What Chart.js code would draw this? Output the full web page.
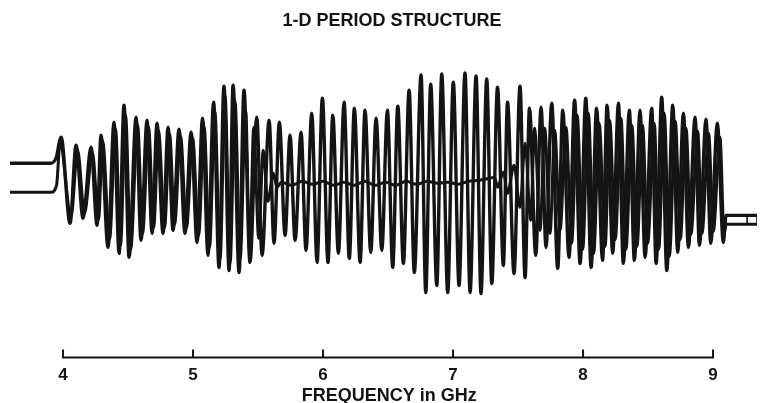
<!DOCTYPE html>
<html>
<head>
<meta charset="utf-8">
<script src="https://cdn.jsdelivr.net/npm/chart.js@4/dist/chart.umd.min.js"></script>
<style>
  html, body { margin: 0; padding: 0; background: #fff; }
  .chart-box { width: 760px; height: 403px; }
</style>
</head>
<body>
<div class="chart-box"><canvas class="js-chart"></canvas></div>
<script>
var chartTitle = '1-D PERIOD STRUCTURE';
var axisTitle = 'FREQUENCY in GHz';
var tickValues = [4, 5, 6, 7, 8, 9];

// trace with the strong beat in the middle (GHz, relative amplitude)
var traceAFreq = [
  3.592, 3.900, 3.946, 3.985, 4.054, 4.100, 4.154, 4.215, 4.262, 4.292,
  4.346, 4.392, 4.431, 4.469, 4.508, 4.562, 4.600, 4.646, 4.685, 4.723,
  4.769, 4.808, 4.846, 4.892, 4.938, 4.985, 5.031, 5.073, 5.115, 5.158,
  5.200, 5.238, 5.277, 5.308, 5.354, 5.392, 5.438, 5.490, 5.531, 5.585,
  5.623, 5.664, 5.708, 5.746, 5.785, 5.831, 5.869, 5.913, 5.954, 5.995,
  6.038, 6.075, 6.118, 6.162, 6.202, 6.241, 6.285, 6.323, 6.367, 6.408,
  6.452, 6.495, 6.536, 6.575, 6.618, 6.662, 6.702, 6.754, 6.790, 6.828,
  6.875, 6.913, 6.959, 7.002, 7.046, 7.092, 7.131, 7.177, 7.215, 7.259,
  7.298, 7.342, 7.387, 7.419, 7.469, 7.515, 7.554, 7.588, 7.636, 7.677,
  7.715, 7.759, 7.805, 7.844, 7.892, 7.935, 7.977, 8.021, 8.062, 8.104,
  8.150, 8.185, 8.228, 8.272, 8.310, 8.356, 8.395, 8.438, 8.477, 8.528,
  8.562, 8.605, 8.644, 8.690, 8.728, 8.772, 8.810, 8.862, 8.895, 8.946,
  8.982, 9.033, 9.079, 9.100, 9.338
];
var traceAAmp = [
  20, 20, 25, 46, -40, 38, -35, 36, -42, 48,
  -64, 61, -70, 78, -74, 66, -57, 63, -50, 60,
  -50, 56, -47, 54, -50, 51, -59, 65, -72, 81,
  -84, 97, -87, 98, -89, 93, -79, 66, -72, 63,
  -60, 61, -52, 48, -57, 51, -67, 70, -79, 85,
  -79, 68, -70, 81, -75, 75, -79, 73, -69, 65,
  -67, 73, -84, 77, -80, 93, -89, 108, -109, 99,
  -102, 109, -109, 101, -102, 110, -109, 107, -110, 104,
  -100, 96, -82, 81, -90, 97, -94, 75, -72, 76,
  -64, 80, -85, 73, -74, 83, -80, 85, -84, 75,
  -77, 78, -70, 80, -80, 73, -77, 73, -74, 75,
  -80, 86, -87, 78, -69, 70, -64, 66, -62, 64,
  -60, 60, -59, -32, -32
];

// second trace, nearly flat between 5.7 and 7.3 GHz
var traceBFreq = [
  3.592, 3.908, 3.950, 3.977, 4.062, 4.112, 4.165, 4.226, 4.273, 4.305,
  4.358, 4.404, 4.442, 4.481, 4.520, 4.574, 4.612, 4.658, 4.697, 4.735,
  4.781, 4.820, 4.858, 4.904, 4.950, 4.997, 5.043, 5.085, 5.127, 5.168,
  5.208, 5.246, 5.285, 5.323, 5.362, 5.405, 5.435, 5.467, 5.505, 5.540,
  5.575, 5.618, 5.645, 5.680, 5.760, 5.840, 5.920, 6.000, 6.080, 6.160,
  6.240, 6.320, 6.400, 6.480, 6.560, 6.640, 6.720, 6.800, 6.880, 6.960,
  7.040, 7.120, 7.200, 7.280, 7.320, 7.342, 7.387, 7.419, 7.469, 7.515,
  7.554, 7.597, 7.627, 7.669, 7.705, 7.746, 7.782, 7.823, 7.869, 7.912,
  7.955, 7.997, 8.041, 8.082, 8.124, 8.170, 8.205, 8.248, 8.292, 8.330,
  8.376, 8.415, 8.458, 8.497, 8.548, 8.582, 8.625, 8.664, 8.710, 8.748,
  8.792, 8.830, 8.882, 8.915, 8.966, 9.002, 9.053, 9.085, 9.100, 9.338
];
var traceBAmp = [
  -9, -9, -2, 40, -33, 33, -30, 31, -36, 42,
  -56, 54, -62, 68, -66, 58, -50, 56, -44, 52,
  -44, 49, -41, 47, -44, 45, -52, 57, -64, 72,
  -76, 88, -80, 82, -76, 73, -69, 56, -55, 33,
  -18, 10, -4, 1, -2, 2, -1, 2, -2, 1,
  -2, 2, -2, 1, -2, 2, -1, 2, 0, 1,
  -1, 2, 3, 5, 6, -4, 11, -10, 18, -24,
  40, -37, 55, -47, 55, -50, 53, -47, 56, -60,
  68, -66, 70, -70, 60, -63, 63, -56, 65, -66,
  58, -63, 58, -60, 60, -66, 70, -73, 62, -56,
  55, -51, 52, -50, 50, -48, 46, -50, -41, -41
];

// little end marks on the right hand baselines
var markerFreq = [9.262, 9.262, 9.300, 9.338, 9.338];
var markerAmp = [-32, -41, null, -32, -41];

(function () {
  var ink = '#141414';
  var fontFamily = '"Liberation Sans", Arial, Helvetica, sans-serif';

  function zip(xs, ys) {
    return xs.map(function (x, i) {
      return { x: x, y: ys[i] };
    });
  }

  // axis line only runs 4..9 GHz with the ticks pointing up, plus the two titles
  var decorations = {
    id: 'decorations',
    afterDraw: function (chart) {
      var scale = chart.scales.x;
      var ctx = chart.ctx;
      var y = chart.chartArea.bottom;
      ctx.save();
      ctx.strokeStyle = ink;
      ctx.lineWidth = 2;
      ctx.beginPath();
      ctx.moveTo(scale.getPixelForValue(tickValues[0]), y);
      ctx.lineTo(scale.getPixelForValue(tickValues[tickValues.length - 1]), y);
      tickValues.forEach(function (v) {
        var px = scale.getPixelForValue(v);
        ctx.moveTo(px, y + 1);
        ctx.lineTo(px, y - 8);
      });
      ctx.stroke();

      ctx.fillStyle = ink;
      ctx.textAlign = 'center';
      ctx.textBaseline = 'middle';
      ctx.font = 'bold 18px ' + fontFamily;
      ctx.fillText(chartTitle, 392, 21);
      ctx.fillText(axisTitle, scale.getPixelForValue(6.51), 396);
      ctx.restore();
    }
  };

  var common = {
    borderColor: ink,
    pointRadius: 0,
    fill: false,
  };

  new Chart(document.querySelector('.js-chart'), {
    type: 'line',
    data: {
      datasets: [
        Object.assign({ data: zip(traceAFreq, traceAAmp), borderWidth: 3.4, cubicInterpolationMode: 'monotone' }, common),
        Object.assign({ data: zip(traceBFreq, traceBAmp), borderWidth: 3.0, cubicInterpolationMode: 'monotone' }, common),
        Object.assign({ data: zip(markerFreq, markerAmp), borderWidth: 1.6, tension: 0, spanGaps: false }, common),
      ]
    },
    options: {
      responsive: true,
      maintainAspectRatio: false,
      animation: false,
      layout: {
        padding: { left: 10, right: 3, top: 40, bottom: 9 },
      },
      plugins: {
        legend: { display: false },
        tooltip: { enabled: false },
        title: { display: false },
      },
      scales: {
        x: {
          type: 'linear',
          min: 3.592,
          max: 9.338,
          afterBuildTicks: function (scale) {
            scale.ticks = tickValues.map(function (v) { return { value: v }; });
          },
          grid: { display: false, drawTicks: false, tickLength: 0 },
          border: { display: false },
          ticks: {
            padding: 8,
            autoSkip: false,
            maxRotation: 0,
            color: ink,
            font: { family: fontFamily, size: 17, weight: 'bold' },
          },
        },
        y: {
          display: false,
          min: -174,
          max: 143,
        },
      },
    },
    plugins: [decorations],
  });
})();
</script>
</body>
</html>
